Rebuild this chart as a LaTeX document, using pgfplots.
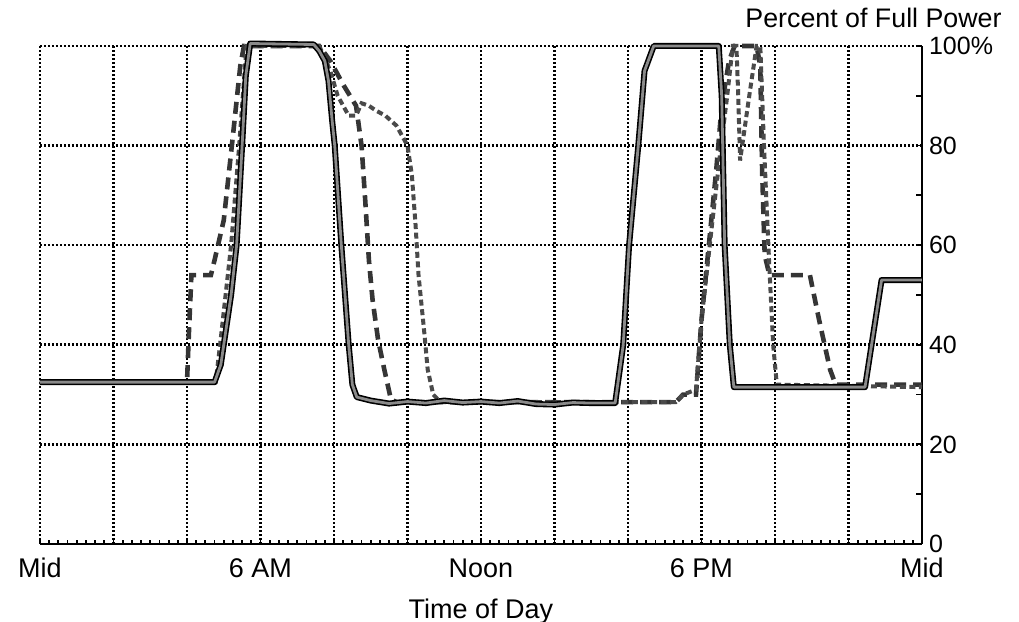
\documentclass[border=0pt]{standalone}
\usepackage{pgfplots}
\usepackage{pgfplotstable}
\pgfplotsset{compat=1.18}
\usepackage{fontspec}
\setmainfont{Liberation Sans}
\definecolor{solidin}{HTML}{8A8A8A}
\definecolor{dashc}{HTML}{353535}
\definecolor{dotc}{HTML}{4A4A4A}

\pgfplotstableread{
h p
0 32.5
4.75 32.5
4.92 36
5.0 40
5.2 50
5.35 60
5.5 80
5.6 94
5.72 100.5
7.45 100.3
7.6 99
7.75 97
7.85 93
7.95 85
8.02 80
8.2 60
8.4 40
8.5 32
8.62 29.5
9.0 28.8
9.5 28.2
10.0 28.6
10.5 28.3
11.0 28.8
11.5 28.4
12.0 28.6
12.5 28.3
13.0 28.7
13.5 28.1
14.0 28.0
14.5 28.4
15.0 28.3
15.65 28.3
15.87 40
16.03 60
16.28 80
16.45 95
16.7 100
18.47 100
18.55 90
18.63 60
18.77 40
18.88 31.5
22.45 31.5
22.9 53
24 53
}\solidtab

\pgfplotstableread{
h p
0 32.5
4.0 32.5
4.05 42
4.12 54
4.65 54
4.75 57
5.0 65
5.25 82
5.45 96
5.55 100
7.6 100
7.9 97
8.27 92
8.6 88
8.75 80
8.85 69
8.95 57
9.05 49
9.2 41
9.37 35
9.55 29
9.7 28.5
17.3 28.5
17.5 30
17.85 30
18.0 45
18.2 60
18.4 75
18.55 88
18.75 97
18.9 100
19.5 100
19.6 96
19.65 75
19.72 58
19.85 54
20.95 54
21.2 45
21.5 35
21.65 32
24 32
}\dashtab

\pgfplotstableread{
h p
0 32.5
4.78 32.5
4.9 40
5.2 60
5.42 80
5.62 100
7.6 100
7.9 95
8.1 90
8.4 86
8.6 86
8.75 88.5
8.95 88
9.15 87
9.4 86
9.7 84
10.0 80
10.12 74
10.22 64
10.3 54
10.45 43
10.55 35
10.7 30
10.9 28.5
17.3 28.5
17.5 30
17.85 31
18.0 45
18.3 65
18.5 78
18.7 90
18.85 100
18.95 100
19.0 90
19.05 77
19.3 90
19.5 100
19.6 100
19.7 80
19.85 55
19.95 40
20.05 32
24 31.5
}\dottab

\begin{document}
\begin{tikzpicture}
\begin{axis}[
  width=441pt, height=249pt, scale only axis,
  xmin=0, xmax=24, ymin=0, ymax=100,
  axis x line*=bottom, axis y line*=right,
  axis line style={black, line width=1pt},
  xtick={0,2,...,24},
  xticklabels={Mid,,,6 AM,,,Noon,,,6 PM,,,Mid},
  minor x tick num=7,
  ytick={0,20,...,100},
  yticklabels={0,20,40,60,80,100\%},
  extra y ticks={10,30,50,70,90},
  extra y tick labels={},
  extra y tick style={grid=none, major tick length=3pt},
  tick align=inside,
  major tick length=2pt, minor tick length=2pt,
  tick style={black, line width=0.9pt},
  grid=major,
  major grid style={black, line width=1.3pt, dash pattern=on 0.9pt off 1.1pt},
  xticklabel style={font=\fontsize{13.5}{16}\selectfont, anchor=base, yshift=-17pt},
  yticklabel style={font=\fontsize{12.5}{15}\selectfont, anchor=west},
  xlabel={Time of Day},
  xlabel style={font=\fontsize{13.5}{16}\selectfont, at={(rel axis cs:0.5,0)}, anchor=base, yshift=-37.5pt},
  clip=false,
]
\addplot[dashc, line width=2.3pt, dash pattern=on 6pt off 3.5pt] table[x=h,y=p] {\dashtab};
\addplot[dotc, line width=2pt, dash pattern=on 3pt off 1.8pt] table[x=h,y=p] {\dottab};
\addplot[black, line width=3pt, line join=round] table[x=h,y=p] {\solidtab};
\addplot[solidin, line width=1.4pt, line join=round] table[x=h,y=p] {\solidtab};
\node[anchor=base east, inner sep=0pt, font=\fontsize{13.4}{16}\selectfont, xshift=40pt, yshift=9pt] at (rel axis cs:1,1) {Percent of Full Power};
\coordinate (bbsw) at (rel axis cs:-0.04535,-0.15663);
\coordinate (bbne) at (rel axis cs:1.10998,1.09237);
\end{axis}
\pgfresetboundingbox
\path (bbsw) rectangle (bbne);
\end{tikzpicture}
\end{document}
